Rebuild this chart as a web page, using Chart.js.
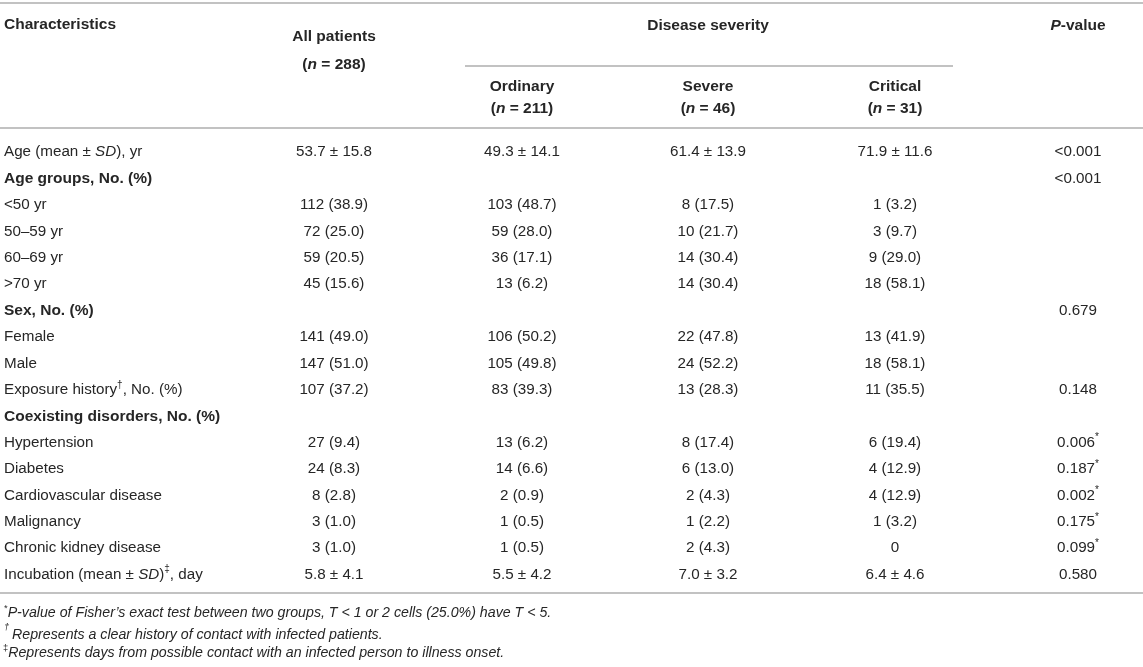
<!DOCTYPE html>
<html>
<head>
<meta charset="utf-8">
<script src="https://cdn.jsdelivr.net/npm/chart.js@4/dist/chart.umd.min.js"></script>
<style>
  html, body { margin: 0; padding: 0; background: #ffffff; }
  #wrap { width: 1143px; height: 667px; position: relative; }
</style>
</head>
<body>
<div id="wrap"><canvas id="c"></canvas></div>
<script>
// ---------------- DATA ----------------
// Markup: _text_ = italic, ^text^ = superscript
const characteristics = [
  'Age (mean ± _SD_), yr',
  'Age groups, No. (%)',
  '<50 yr',
  '50–59 yr',
  '60–69 yr',
  '>70 yr',
  'Sex, No. (%)',
  'Female',
  'Male',
  'Exposure history^†^, No. (%)',
  'Coexisting disorders, No. (%)',
  'Hypertension',
  'Diabetes',
  'Cardiovascular disease',
  'Malignancy',
  'Chronic kidney disease',
  'Incubation (mean ± _SD_)^‡^, day'
];
const groupRows = [1, 6, 10];

const allPatients = ['53.7 ± 15.8', '', '112 (38.9)', '72 (25.0)', '59 (20.5)', '45 (15.6)', '',
  '141 (49.0)', '147 (51.0)', '107 (37.2)', '', '27 (9.4)', '24 (8.3)', '8 (2.8)', '3 (1.0)', '3 (1.0)', '5.8 ± 4.1'];
const ordinary = ['49.3 ± 14.1', '', '103 (48.7)', '59 (28.0)', '36 (17.1)', '13 (6.2)', '',
  '106 (50.2)', '105 (49.8)', '83 (39.3)', '', '13 (6.2)', '14 (6.6)', '2 (0.9)', '1 (0.5)', '1 (0.5)', '5.5 ± 4.2'];
const severe = ['61.4 ± 13.9', '', '8 (17.5)', '10 (21.7)', '14 (30.4)', '14 (30.4)', '',
  '22 (47.8)', '24 (52.2)', '13 (28.3)', '', '8 (17.4)', '6 (13.0)', '2 (4.3)', '1 (2.2)', '2 (4.3)', '7.0 ± 3.2'];
const critical = ['71.9 ± 11.6', '', '1 (3.2)', '3 (9.7)', '9 (29.0)', '18 (58.1)', '',
  '13 (41.9)', '18 (58.1)', '11 (35.5)', '', '6 (19.4)', '4 (12.9)', '4 (12.9)', '1 (3.2)', '0', '6.4 ± 4.6'];
const pValues = ['<0.001', '<0.001', '', '', '', '', '0.679',
  '', '', '0.148', '', '0.006^*^', '0.187^*^', '0.002^*^', '0.175^*^', '0.099^*^', '0.580'];

const headerFirst = 'Characteristics';
const headerAll = ['All patients', '(_n_ = 288)'];
const headerGroup = 'Disease severity';
const severityNames = ['Ordinary', 'Severe', 'Critical'];
const severityN = ['(_n_ = 211)', '(_n_ = 46)', '(_n_ = 31)'];
const headerP = '_P_-value';

const footnotes = [
  '^*^_P-value of Fisher\u2019s exact test between two groups, T < 1 or 2 cells (25.0%) have T < 5._',
  '_^†^_',
  '_Represents a clear history of contact with infected patients._',
  '^‡^_Represents days from possible contact with an infected person to illness onset._'
];

// ---------------- LAYOUT (not data) ----------------
const ROW0 = 151, ROWH = 26.4;           // pixel centre of first body row, row pitch
const W = 1143, H = 667;
const colX = { label: 4, all: 334, ordinary: 522, severe: 708, critical: 895, p: 1078 };
const FONT = '"Liberation Sans", Arial, Helvetica, sans-serif';
const BODY_SIZE = 15.2;
const BOLD_SIZE = 15.5;
const FOOT_SIZE = 14.2;
const TEXT_COLOR = '#262626';
const RULE_COLOR = '#c2c2c2';
const px2row = p => (p - ROW0) / ROWH;

function cellDataset(values, x, align, opts = {}) {
  return {
    cellText: true, align,
    bold: !!opts.bold, size: opts.size || BODY_SIZE,
    data: values.map((t, i) => ({ x, y: i, t, bold: opts.boldRows ? opts.boldRows.includes(i) : undefined }))
                .filter(d => d.t !== ''),
    pointRadius: 0, pointHoverRadius: 0, showLine: false
  };
}
function textDataset(items, align, opts = {}) {
  return {
    cellText: true, align, bold: !!opts.bold, size: opts.size || BODY_SIZE,
    data: items, pointRadius: 0, pointHoverRadius: 0, showLine: false
  };
}
function ruleDataset(x0, x1, yPx) {
  const y = px2row(yPx);
  return {
    data: [{ x: x0, y }, { x: x1, y }], showLine: true, borderColor: RULE_COLOR,
    borderWidth: 2, pointRadius: 0, pointHoverRadius: 0, clip: false, fill: false
  };
}

const datasets = [
  ruleDataset(0, W, 3),
  ruleDataset(465, 953, 66),
  ruleDataset(0, W, 128),
  ruleDataset(0, W, 593),
  cellDataset(characteristics, colX.label, 'left', { boldRows: groupRows }),
  cellDataset(allPatients, colX.all, 'center'),
  cellDataset(ordinary, colX.ordinary, 'center'),
  cellDataset(severe, colX.severe, 'center'),
  cellDataset(critical, colX.critical, 'center'),
  cellDataset(pValues, colX.p, 'center'),
  textDataset([{ x: colX.label, y: px2row(23), t: headerFirst }], 'left', { bold: true }),
  textDataset([
    { x: colX.all, y: px2row(35), t: headerAll[0] },
    { x: colX.all, y: px2row(63), t: headerAll[1] },
    { x: colX.severe, y: px2row(24), t: headerGroup },
    { x: colX.p, y: px2row(24), t: headerP },
    ...severityNames.map((t, k) => ({ x: [colX.ordinary, colX.severe, colX.critical][k], y: px2row(85), t })),
    ...severityN.map((t, k) => ({ x: [colX.ordinary, colX.severe, colX.critical][k], y: px2row(107), t }))
  ], 'center', { bold: true }),
  textDataset([
    { x: 4, y: px2row(612), t: footnotes[0] },
    { x: 4, y: px2row(631), t: footnotes[1] },
    { x: 12, y: px2row(634), t: footnotes[2] },
    { x: 3, y: px2row(652), t: footnotes[3] }
  ], 'left', { size: FOOT_SIZE })
];

// ---------------- RICH TEXT PLUGIN ----------------
function parseRich(s) {
  const segs = []; let italic = false, sup = false, buf = '';
  const push = () => { if (buf) segs.push({ text: buf, italic, sup }); buf = ''; };
  for (const ch of s) {
    if (ch === '_') { push(); italic = !italic; }
    else if (ch === '^') { push(); sup = !sup; }
    else buf += ch;
  }
  push();
  return segs;
}
function fontStr(size, bold, italic) {
  return `${italic ? 'italic ' : ''}${bold ? 'bold ' : ''}${size}px ${FONT}`;
}
function drawRich(ctx, str, x, y, align, bold, size) {
  if (bold) size = BOLD_SIZE;
  const segs = parseRich(str);
  let total = 0;
  segs.forEach(sg => {
    sg.size = sg.sup ? size * 0.66 : size;
    ctx.font = fontStr(sg.size, bold, sg.italic);
    sg.w = ctx.measureText(sg.text).width;
    total += sg.w;
  });
  let cx = align === 'center' ? x - total / 2 : (align === 'right' ? x - total : x);
  const base = y + size * 0.36;
  ctx.textAlign = 'left';
  ctx.textBaseline = 'alphabetic';
  ctx.fillStyle = TEXT_COLOR;
  segs.forEach(sg => {
    ctx.font = fontStr(sg.size, bold, sg.italic);
    ctx.fillText(sg.text, cx, sg.sup ? base - size * 0.42 : base);
    cx += sg.w;
  });
}
const tablePlugin = {
  id: 'tableText',
  afterDatasetsDraw(chart) {
    const ctx = chart.ctx;
    ctx.save();
    chart.data.datasets.forEach((ds, di) => {
      if (!ds.cellText) return;
      const meta = chart.getDatasetMeta(di);
      meta.data.forEach((el, j) => {
        const item = ds.data[j];
        const b = item.bold !== undefined ? item.bold : ds.bold;
        drawRich(ctx, item.t, el.x, el.y, ds.align, b, ds.size);
      });
    });
    ctx.restore();
  }
};

new Chart(document.getElementById('c'), {
  type: 'scatter',
  data: { datasets },
  options: {
    responsive: true,
    maintainAspectRatio: false,
    animation: false,
    events: [],
    layout: { padding: 0 },
    plugins: { legend: { display: false }, tooltip: { enabled: false }, title: { display: false } },
    scales: {
      x: { type: 'linear', min: 0, max: W, display: false },
      y: { type: 'linear', reverse: true, min: px2row(0), max: px2row(H), display: false }
    }
  },
  plugins: [tablePlugin]
});
</script>
</body>
</html>
